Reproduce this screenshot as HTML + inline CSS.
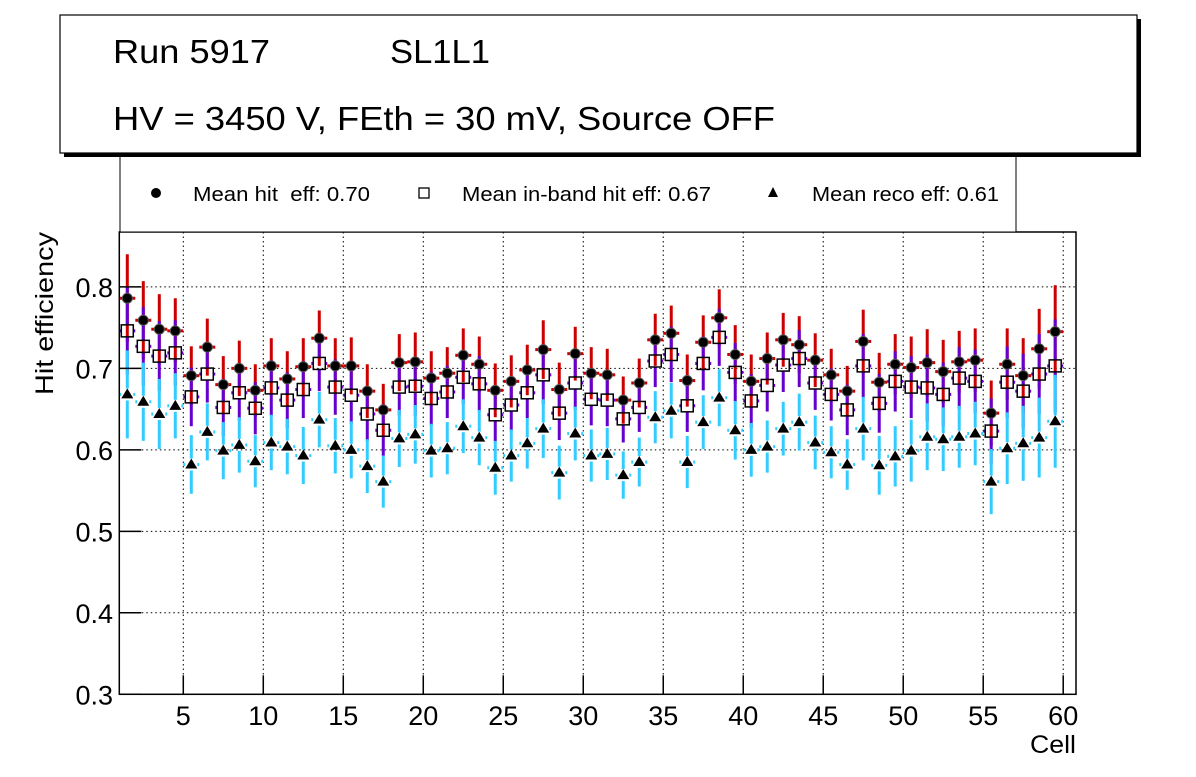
<!DOCTYPE html>
<html><head><meta charset="utf-8"><style>
body{margin:0;background:#fff;}
svg text{font-family:"Liberation Sans",sans-serif;white-space:pre;}
</style></head><body>
<svg id="chart" xmlns="http://www.w3.org/2000/svg" width="1196" height="772" viewBox="0 0 1196 772">
<rect x="0" y="0" width="1196" height="772" fill="#fff"/>
<g id="grid"></g>
<g id="marks"></g>
<rect x="119.3" y="232" width="956.7" height="462.3" fill="none" stroke="#000" stroke-width="1.5"/>
<g id="axes"></g>
<text transform="translate(53,395) rotate(-90)" font-size="25" textLength="163" lengthAdjust="spacingAndGlyphs">Hit efficiency</text>
<text x="1030" y="753" font-size="25" textLength="46" lengthAdjust="spacingAndGlyphs">Cell</text>
<g>
<rect x="120" y="150" width="896" height="82" fill="#fff" stroke="#000" stroke-width="1"/>
<circle cx="156" cy="193" r="5" fill="#000"/>
<text x="193" y="201" font-size="20" textLength="177" lengthAdjust="spacingAndGlyphs" xml:space="preserve">Mean hit  eff: 0.70</text>
<rect x="419" y="188" width="10" height="10" fill="#fff" stroke="#000" stroke-width="1.3"/>
<text x="462" y="201" font-size="20" textLength="249" lengthAdjust="spacingAndGlyphs">Mean in-band hit eff: 0.67</text>
<polygon points="773,187 778,197 768,197" fill="#000"/>
<text x="812" y="201" font-size="20" textLength="187" lengthAdjust="spacingAndGlyphs">Mean reco eff: 0.61</text>
</g>
<g>
<rect x="64" y="19" width="1077" height="138" fill="#000"/>
<rect x="60" y="15" width="1077" height="138" fill="#fff" stroke="#000" stroke-width="1.2"/>
<text x="113" y="63" font-size="33" textLength="157" lengthAdjust="spacingAndGlyphs">Run 5917</text>
<text x="390" y="63" font-size="33" textLength="100" lengthAdjust="spacingAndGlyphs">SL1L1</text>
<text x="113" y="130" font-size="33" textLength="662" lengthAdjust="spacingAndGlyphs">HV = 3450 V, FEth = 30 mV, Source OFF</text>
</g>
</svg>
<script>
const cells = Array.from({length:59},(_,i)=>i+1);
const hitEff = [0.786,0.759,0.748,0.746,0.691,0.726,0.680,0.700,0.673,0.703,0.687,0.702,0.737,0.703,0.703,
0.672,0.649,0.707,0.708,0.688,0.694,0.716,0.705,0.673,0.684,0.698,0.723,0.674,0.718,0.694,
0.692,0.661,0.682,0.735,0.743,0.685,0.732,0.762,0.717,0.684,0.712,0.735,0.729,0.710,0.692,
0.672,0.733,0.683,0.705,0.701,0.707,0.696,0.708,0.710,0.645,0.705,0.691,0.724,0.745];
const inbandEff = [0.746,0.727,0.715,0.719,0.665,0.693,0.652,0.670,0.651,0.676,0.661,0.674,0.706,0.677,0.667,
0.644,0.624,0.677,0.678,0.663,0.671,0.689,0.681,0.643,0.655,0.670,0.692,0.645,0.682,0.662,
0.661,0.638,0.652,0.709,0.717,0.654,0.706,0.738,0.695,0.660,0.679,0.704,0.712,0.682,0.668,
0.649,0.703,0.657,0.684,0.677,0.676,0.668,0.688,0.684,0.623,0.683,0.672,0.693,0.703];
const recoEff = [0.668,0.659,0.644,0.654,0.582,0.622,0.599,0.606,0.586,0.609,0.604,0.593,0.637,0.605,0.600,
0.580,0.561,0.614,0.619,0.599,0.602,0.629,0.615,0.578,0.593,0.608,0.626,0.572,0.620,0.593,
0.595,0.569,0.585,0.640,0.648,0.585,0.634,0.664,0.624,0.600,0.604,0.626,0.634,0.609,0.597,
0.582,0.626,0.581,0.592,0.599,0.616,0.613,0.616,0.620,0.561,0.602,0.608,0.615,0.635];
const effErr = [0.054,0.048,0.043,0.040,0.036,0.035,0.035,0.034,0.032,0.034,0.034,0.035,0.034,0.034,0.035,
0.033,0.032,0.035,0.036,0.033,0.032,0.033,0.034,0.033,0.032,0.031,0.036,0.033,0.033,0.032,
0.032,0.029,0.030,0.032,0.034,0.032,0.033,0.035,0.036,0.033,0.032,0.033,0.035,0.033,0.032,
0.031,0.039,0.036,0.037,0.038,0.041,0.039,0.038,0.039,0.040,0.044,0.046,0.049,0.057];
const yTicks = [0.3,0.4,0.5,0.6,0.7,0.8];
const xTicks = [5,10,15,20,25,30,35,40,45,50,55,60];

const X0=119.3, X1=1076, Y0=694.3, Y1=232, XMIN=1, XMAX=60.8, YMIN=0.3, YMAX=0.8673;
function xs(v){return X0+(v-XMIN)/(XMAX-XMIN)*(X1-X0);}
function ys(v){return Y0-(v-YMIN)/(YMAX-YMIN)*(Y0-Y1);}
const NS="http://www.w3.org/2000/svg";
function mk(parent,tag,attrs){const e=document.createElementNS(NS,tag);for(const k in attrs)e.setAttribute(k,attrs[k]);parent.appendChild(e);return e;}
const grid=document.getElementById('grid'), axes=document.getElementById('axes'), marks=document.getElementById('marks');

yTicks.forEach(t=>{
  const y=ys(t);
  if(t>YMIN){const g=mk(grid,'line',{x1:X0,x2:X1,y1:y,y2:y,stroke:'#000','stroke-width':1,'stroke-dasharray':'1.5,3'});
  
  }
  const tk=mk(axes,'line',{x1:X0,x2:X0+22,y1:y,y2:y,stroke:'#000','stroke-width':1.5});
  
  
  const tx=mk(axes,'text',{x:113,y:y+10,'font-size':27,'text-anchor':'end'});
  tx.textContent=t.toFixed(1);
  
  
});
xTicks.forEach(t=>{
  const x=xs(t);
  const g=mk(grid,'line',{x1:x,x2:x,y1:Y1,y2:Y0,stroke:'#000','stroke-width':1,'stroke-dasharray':'1.5,3'});
  
  
  const tk=mk(axes,'line',{x1:x,x2:x,y1:Y0,y2:Y0-19,stroke:'#000','stroke-width':1.5});
  
  
  const tx=mk(axes,'text',{x:x,y:725,'font-size':27,'text-anchor':'middle'});
  tx.textContent=String(t);
  
  
});

function bars(vals,color,gap,name){
  cells.forEach((c,i)=>{
    const x=xs(c+0.5), y=ys(vals[i]), yt=ys(vals[i]+effErr[i]), yb=ys(vals[i]-effErr[i]);
    const g=mk(marks,'g',{stroke:color,'stroke-width':3});
    
    
    mk(g,'line',{x1:x,x2:x,y1:yt,y2:y-gap});
    mk(g,'line',{x1:x,x2:x,y1:y+gap,y2:yb});
    mk(g,'line',{x1:xs(c),x2:x-gap,y1:y,y2:y});
    mk(g,'line',{x1:x+gap,x2:xs(c+1),y1:y,y2:y});
  });
}
bars(hitEff,'#cc0000',0,'hit');
bars(inbandEff,'#6600cc',6,'inband');
bars(recoEff,'#33ccff',6,'reco');
cells.forEach((c,i)=>{
  const x=xs(c+0.5);
  const ci=mk(marks,'circle',{cx:x,cy:ys(hitEff[i]),r:5,fill:'#000',stroke:'#555','stroke-width':1});
  
  
  const sq=mk(marks,'rect',{x:x-6,y:ys(inbandEff[i])-6,width:12,height:12,fill:'none',stroke:'#000','stroke-width':1.5});
  
  
  const y=ys(recoEff[i]);
  const tr=mk(marks,'polygon',{points:`${x},${y-6} ${x+6},${y+4} ${x-6},${y+4}`,fill:'#000'});
  
  
});
</script>
</body></html>
